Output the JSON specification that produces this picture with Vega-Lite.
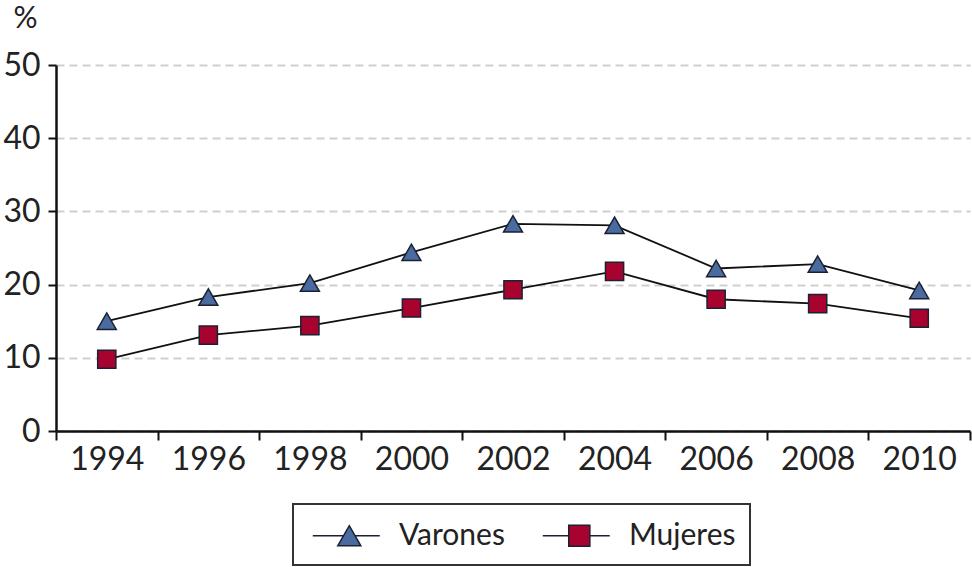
{
  "$schema": "https://vega.github.io/schema/vega-lite/v6.json",
  "width": 914,
  "height": 366,
  "autosize": "none",
  "padding": {"left": 56, "top": 65, "right": 2, "bottom": 136},
  "background": "white",
  "config": {
    "view": {"stroke": null},
    "font": "Lato",
    "axis": {"labelFont": "Lato", "labelColor": "#222", "titleFont": "Lato"}
  },
  "data": {
    "values": [
      {"year": 1994, "series": "Varones", "value": 15.0},
      {"year": 1996, "series": "Varones", "value": 18.3},
      {"year": 1998, "series": "Varones", "value": 20.2},
      {"year": 2000, "series": "Varones", "value": 24.4},
      {"year": 2002, "series": "Varones", "value": 28.3},
      {"year": 2004, "series": "Varones", "value": 28.1},
      {"year": 2006, "series": "Varones", "value": 22.2},
      {"year": 2008, "series": "Varones", "value": 22.8},
      {"year": 2010, "series": "Varones", "value": 19.2},
      {"year": 1994, "series": "Mujeres", "value": 9.8},
      {"year": 1996, "series": "Mujeres", "value": 13.1},
      {"year": 1998, "series": "Mujeres", "value": 14.4},
      {"year": 2000, "series": "Mujeres", "value": 16.8},
      {"year": 2002, "series": "Mujeres", "value": 19.3},
      {"year": 2004, "series": "Mujeres", "value": 21.8},
      {"year": 2006, "series": "Mujeres", "value": 18.0},
      {"year": 2008, "series": "Mujeres", "value": 17.4},
      {"year": 2010, "series": "Mujeres", "value": 15.4}
    ]
  },
  "resolve": {"axis": {"x": "independent"}},
  "layer": [
    {
      "mark": {"type": "line", "color": "#111", "strokeWidth": 1.8},
      "encoding": {
        "x": {
          "field": "year", "type": "quantitative",
          "scale": {"domain": [1993, 2011], "nice": false, "zero": false},
          "axis": {
            "orient": "bottom", "title": null, "labels": false, "grid": false,
            "values": [1993, 1995, 1997, 1999, 2001, 2003, 2005, 2007, 2009, 2011],
            "ticks": true, "tickSize": 9, "tickColor": "#111", "tickWidth": 2,
            "domain": true, "domainColor": "#111", "domainWidth": 2.5
          }
        },
        "y": {
          "field": "value", "type": "quantitative",
          "scale": {"domain": [0, 50], "nice": false},
          "axis": {
            "title": "%", "titleAngle": 0, "titleFontSize": 30, "titleFontWeight": "normal",
            "titleColor": "#222", "titleAlign": "left", "titleBaseline": "alphabetic",
            "titleX": -43, "titleY": -38,
            "values": [0, 10, 20, 30, 40, 50],
            "labelFontSize": 32, "labelPadding": 8,
            "tickSize": 8, "tickColor": "#111", "tickWidth": 2,
            "domainColor": "#111", "domainWidth": 2.5,
            "grid": true, "gridColor": "#cfcfcf", "gridDash": [8, 5], "gridWidth": 2
          }
        },
        "detail": {"field": "series"}
      }
    },
    {
      "transform": [{"filter": "datum.series === 'Varones'"}],
      "mark": {"type": "point", "shape": "triangle-up", "filled": true, "fill": "#4a6b9f", "opacity": 1, "size": 360, "stroke": "#1c2033", "strokeWidth": 1.5},
      "encoding": {
        "x": {
          "field": "year", "type": "quantitative",
          "axis": {
            "orient": "bottom", "title": null, "grid": false,
            "values": [1994, 1996, 1998, 2000, 2002, 2004, 2006, 2008, 2010],
            "format": "d", "ticks": false, "domain": false,
            "labelFontSize": 32, "labelPadding": 13, "labelFlush": false, "labelOverlap": false
          }
        },
        "y": {"field": "value", "type": "quantitative"}
      }
    },
    {
      "transform": [{"filter": "datum.series === 'Mujeres'"}],
      "mark": {"type": "point", "shape": "square", "filled": true, "fill": "#a8032f", "opacity": 1, "size": 330, "stroke": "#1c2033", "strokeWidth": 1.5},
      "encoding": {
        "x": {"field": "year", "type": "quantitative", "axis": null},
        "y": {"field": "value", "type": "quantitative"}
      }
    },
    {
      "transform": [{"filter": "false"}],
      "mark": {"type": "point", "filled": true, "opacity": 1, "stroke": "#1c2033", "strokeWidth": 1.5},
      "encoding": {
        "x": {"field": "year", "type": "quantitative", "axis": null},
        "y": {"field": "value", "type": "quantitative"},
        "color": {
          "field": "series", "type": "nominal",
          "scale": {"domain": ["Varones", "Mujeres"], "range": ["#4a6b9f", "#a8032f"]},
          "legend": {
            "title": null, "orient": "none", "legendX": 237, "legendY": 439,
            "direction": "horizontal",
            "strokeColor": "#333", "padding": 14,
            "labelFont": "Lato", "labelFontSize": 30, "labelColor": "#222",
            "labelOffset": 57, "columnPadding": 32,
            "symbolSize": 1122, "symbolStrokeWidth": 1.5, "symbolStrokeColor": "#1c2033",
            "symbolOpacity": 1,
            "encode": {"legend": {"update": {"strokeWidth": {"value": 2}}}}
          }
        },
        "shape": {
          "field": "series", "type": "nominal",
          "scale": {
            "domain": ["Varones", "Mujeres"],
            "range": [
              "M-0.7,0L1.14,0M1.82,0L3.3,0M0.79,0.6L1.48,-0.6L2.17,0.6Z",
              "M-0.7,0L0.85,0M2.11,0L3.3,0M0.85,-0.63L2.11,-0.63L2.11,0.63L0.85,0.63Z"
            ]
          }
        }
      }
    }
  ]
}
